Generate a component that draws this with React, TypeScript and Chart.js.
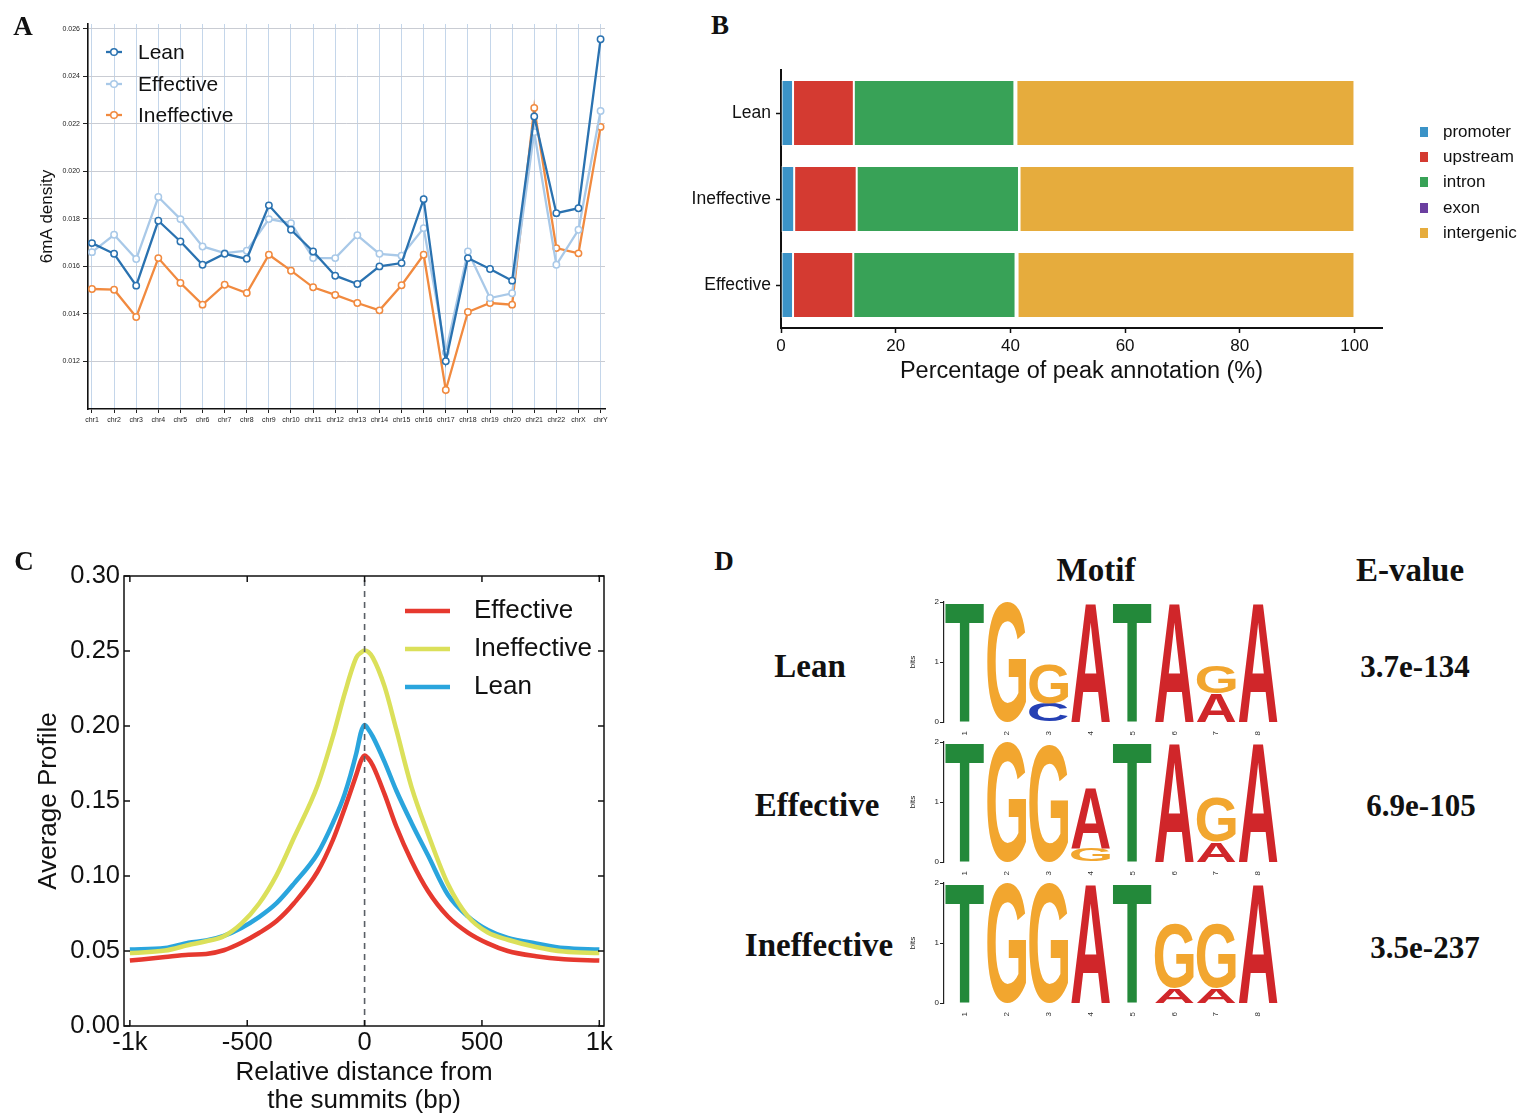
import React, { useEffect, useRef } from 'react';
import { Chart, registerables } from 'chart.js';

Chart.register(...registerables);

const SANS = '"Liberation Sans", Arial, Helvetica, sans-serif';
const SERIF = '"Liberation Serif", "Times New Roman", Times, serif';
Chart.defaults.font.family = SANS;
Chart.defaults.color = '#111';

// ---------------- Panel A : 6mA density per chromosome ----------------
const chromosomes = ['chr1', 'chr2', 'chr3', 'chr4', 'chr5', 'chr6', 'chr7', 'chr8', 'chr9', 'chr10', 'chr11', 'chr12', 'chr13', 'chr14', 'chr15', 'chr16', 'chr17', 'chr18', 'chr19', 'chr20', 'chr21', 'chr22', 'chrX', 'chrY'];
const leanDensity = [0.01698, 0.01653, 0.01519, 0.01792, 0.01705, 0.01607, 0.01653, 0.01632, 0.01857, 0.01754, 0.01663, 0.01561, 0.01526, 0.0160, 0.01614, 0.01883, 0.01201, 0.01635, 0.01589, 0.0154, 0.02231, 0.01824, 0.01845, 0.02556];
const effectiveDensity = [0.0166, 0.01733, 0.01631, 0.01892, 0.01799, 0.01684, 0.01656, 0.01666, 0.01799, 0.01782, 0.01635, 0.01635, 0.01731, 0.01653, 0.01645, 0.01761, 0.01239, 0.01663, 0.01467, 0.01487, 0.02165, 0.01607, 0.01754, 0.02254];
const ineffectiveDensity = [0.01505, 0.01502, 0.01387, 0.01635, 0.0153, 0.01439, 0.01523, 0.01488, 0.01649, 0.01582, 0.01512, 0.0148, 0.01446, 0.01415, 0.01521, 0.01649, 0.0108, 0.01408, 0.01446, 0.01439, 0.02267, 0.01677, 0.01655, 0.02187];
const densityTicks = [0.012, 0.014, 0.016, 0.018, 0.020, 0.022, 0.024, 0.026];

// ---------------- Panel B : peak annotation ----------------
const annotationGroups = ['Lean', 'Ineffective', 'Effective'];
const annotationTypes = ['promoter', 'upstream', 'intron', 'exon', 'intergenic'];
const promoterPct = [2.1, 2.3, 2.1];
const upstreamPct = [10.6, 10.9, 10.5];
const intronPct = [28.0, 28.3, 28.3];
const exonPct = [0.35, 0.1, 0.35];
const intergenicPct = [58.95, 58.4, 58.75];
const percentTicks = [0, 20, 40, 60, 80, 100];

// ---------------- Panel C : average profile ----------------
const distanceBp = [-1000, -850, -750, -675, -600, -525, -450, -375, -300, -200, -135, -85, -35, -15, 0, 15, 35, 85, 135, 200, 270, 355, 440, 525, 610, 730, 850, 1000];
const effectiveProfile = [0.0436, 0.046, 0.0475, 0.048, 0.0505, 0.0555, 0.062, 0.070, 0.082, 0.103, 0.124, 0.145, 0.1677, 0.177, 0.1804, 0.1785, 0.1737, 0.1546, 0.133, 0.110, 0.090, 0.073, 0.0623, 0.0551, 0.050, 0.0465, 0.0445, 0.0436];
const ineffectiveProfile = [0.0486, 0.0503, 0.054, 0.0565, 0.0599, 0.0683, 0.0815, 0.1006, 0.1258, 0.1605, 0.1929, 0.2216, 0.2456, 0.249, 0.2504, 0.2495, 0.2456, 0.2264, 0.1977, 0.1593, 0.1282, 0.0946, 0.0731, 0.0623, 0.0575, 0.0527, 0.0496, 0.0486];
const leanProfile = [0.051, 0.052, 0.0556, 0.057, 0.0601, 0.0654, 0.0726, 0.0819, 0.0951, 0.115, 0.1354, 0.1546, 0.182, 0.196, 0.2006, 0.198, 0.1929, 0.1761, 0.157, 0.1354, 0.1138, 0.0875, 0.0731, 0.064, 0.0587, 0.0551, 0.052, 0.051];
const profileTicks = [0, 0.05, 0.10, 0.15, 0.20, 0.25, 0.30];
const distanceTicks = [-1000, -500, 0, 500, 1000];
const distanceTickLabels = ['-1k', '-500', '0', '500', '1k'];
const summitLineX = [0, 0];
const summitLineY = [0, 0.3];

// ---------------- Panel D : motifs ----------------
const motifPositions = ['1', '2', '3', '4', '5', '6', '7', '8'];
const leanMotifLetters = [['T'], ['G'], ['C', 'G'], ['A'], ['T'], ['A'], ['A', 'G'], ['A']];
const leanMotifBits = [[2], [2], [0.31, 0.66], [2], [2], [2], [0.48, 0.46], [2]];
const effectiveMotifLetters = [['T'], ['G'], ['G'], ['G', 'A'], ['T'], ['A'], ['A', 'G'], ['A']];
const effectiveMotifBits = [[2], [2], [1.97], [0.23, 1.02], [2], [2], [0.34, 0.74], [2]];
const ineffectiveMotifLetters = [['T'], ['G'], ['G'], ['A'], ['T'], ['A', 'G'], ['A', 'G'], ['A']];
const ineffectiveMotifBits = [[2], [2], [2], [2], [2], [0.25, 1.07], [0.25, 1.07], [2]];
const motifGroups = ['Lean', 'Effective', 'Ineffective'];
const motifEValues = ['3.7e-134', '6.9e-105', '3.5e-237'];

const letterColors: Record<string, string> = { A: '#d0262a', C: '#2540b4', G: '#f2a62f', T: '#23893a' };

// ---------------- helpers ----------------
function ChartBox({ left, top, width, height, makeConfig }: any) {
  const ref = useRef<HTMLCanvasElement>(null);
  useEffect(() => {
    const chart = new Chart(ref.current as HTMLCanvasElement, makeConfig());
    return () => chart.destroy();
  }, []);
  return (
    <div style={{ position: 'absolute', left, top, width, height }}>
      <canvas ref={ref} width={width} height={height} style={{ width, height, display: 'block' }} />
    </div>
  );
}

function Label({ x, y, text, size, family = SERIF, weight = 'bold' }: any) {
  return (
    <div
      style={{
        position: 'absolute', left: x, top: y, transform: 'translate(-50%, -50%)',
        font: `${weight} ${size}px ${family}`, lineHeight: 1, whiteSpace: 'nowrap', color: '#111',
      }}
    >
      {text}
    </div>
  );
}

const noPlugins = { legend: { display: false }, tooltip: { enabled: false } };

// ---------------- Panel A config ----------------
function densityDataset(label: string, values: number[], color: string) {
  return {
    label,
    data: values.map((v, i) => ({ x: i, y: v })),
    borderColor: color,
    borderWidth: 2.3,
    pointRadius: 3.2,
    pointBorderWidth: 1.5,
    pointBorderColor: color,
    pointBackgroundColor: '#ffffff',
    tension: 0,
    fill: false,
  };
}

const legendAPlugin = {
  id: 'legendA',
  afterDraw(chart: any) {
    const ctx = chart.ctx;
    const rows = [52, 84, 115];
    chart.data.datasets.forEach((ds: any, i: number) => {
      const y = rows[i];
      ctx.save();
      ctx.strokeStyle = ds.borderColor;
      ctx.lineWidth = 2.3;
      ctx.beginPath(); ctx.moveTo(106, y); ctx.lineTo(122, y); ctx.stroke();
      ctx.beginPath(); ctx.arc(114, y, 3.3, 0, Math.PI * 2);
      ctx.fillStyle = '#fff'; ctx.fill(); ctx.lineWidth = 1.5; ctx.stroke();
      ctx.fillStyle = '#111';
      ctx.font = `21px ${SANS}`;
      ctx.textBaseline = 'middle';
      ctx.textAlign = 'left';
      ctx.fillText(ds.label, 138, y + 1);
      ctx.restore();
    });
  },
};

function configA() {
  return {
    type: 'line',
    data: {
      datasets: [
        densityDataset('Lean', leanDensity, '#2a72b0'),
        densityDataset('Effective', effectiveDensity, '#a9c9e8'),
        densityDataset('Ineffective', ineffectiveDensity, '#f18a3f'),
      ],
    },
    options: {
      responsive: false, animation: false, devicePixelRatio: 1,
      layout: { padding: { top: 24, right: 15, left: 0, bottom: 0 } },
      plugins: noPlugins,
      scales: {
        x: {
          type: 'linear', min: -0.18, max: 23.2,
          afterBuildTicks: (a: any) => { a.ticks = chromosomes.map((_, i) => ({ value: i })); },
          ticks: { callback: (v: any) => chromosomes[Math.round(v)], font: { size: 7 }, color: '#222', padding: 3, maxRotation: 0, autoSkip: false },
          grid: { color: '#c4d6ea', lineWidth: 1, tickColor: '#222', tickLength: 4, tickWidth: 1 },
          border: { color: '#111', width: 1.6 },
          afterFit: (s: any) => { s.height = 31; },
        },
        y: {
          type: 'linear', min: 0.010, max: 0.0262,
          afterBuildTicks: (a: any) => { a.ticks = densityTicks.map((v) => ({ value: v })); },
          ticks: { callback: (v: any) => Number(v).toFixed(3), font: { size: 7 }, color: '#222', padding: 3 },
          grid: { color: '#c9ccd3', lineWidth: 1, tickColor: '#222', tickLength: 5, tickWidth: 1 },
          border: { color: '#111', width: 1.6 },
          title: { display: true, text: '6mA density', font: { size: 17 }, color: '#111', padding: { top: 37 } },
          afterFit: (s: any) => { s.width = 88; },
        },
      },
    },
    plugins: [legendAPlugin],
  };
}

// ---------------- Panel B config ----------------
const annotationColors = ['#3b93c7', '#d43a31', '#38a257', '#6b3fa0', '#e6ac3d'];

const legendBPlugin = {
  id: 'legendB',
  afterDraw(chart: any) {
    const ctx = chart.ctx;
    const rows = [92, 117, 142, 168, 193];
    chart.data.datasets.forEach((ds: any, i: number) => {
      const y = rows[i];
      ctx.save();
      ctx.fillStyle = ds.backgroundColor;
      ctx.fillRect(760, y - 5, 8, 10);
      ctx.fillStyle = '#111';
      ctx.font = `17px ${SANS}`;
      ctx.textBaseline = 'middle';
      ctx.textAlign = 'left';
      ctx.fillText(ds.label, 783, y);
      ctx.restore();
    });
  },
};

function configB() {
  const series = [promoterPct, upstreamPct, intronPct, exonPct, intergenicPct];
  return {
    type: 'bar',
    data: {
      labels: annotationGroups,
      datasets: annotationTypes.map((t, i) => ({
        label: t,
        data: series[i],
        backgroundColor: annotationColors[i],
        borderColor: 'rgba(255,255,255,0.85)',
        borderWidth: 1,
        borderSkipped: false,
        barPercentage: 0.77,
        categoryPercentage: 1,
      })),
    },
    options: {
      indexAxis: 'y',
      responsive: false, animation: false, devicePixelRatio: 1,
      layout: { padding: { top: 30, right: 141, left: 0, bottom: 0 } },
      plugins: noPlugins,
      scales: {
        x: {
          stacked: true, min: 0, max: 104.8,
          afterBuildTicks: (a: any) => { a.ticks = percentTicks.map((v) => ({ value: v })); },
          ticks: { font: { size: 17 }, color: '#111', padding: 3 },
          grid: { drawOnChartArea: false, tickColor: '#111', tickLength: 5, tickWidth: 1.5 },
          border: { color: '#111', width: 2 },
          title: { display: true, text: 'Percentage of peak annotation (%)', font: { size: 23.5 }, color: '#111', padding: { bottom: 14 } },
          afterFit: (s: any) => { s.height = 72; },
        },
        y: {
          stacked: true,
          ticks: { font: { size: 17.5 }, color: '#111', padding: 5 },
          grid: { drawOnChartArea: false, offset: false, tickColor: '#111', tickLength: 5, tickWidth: 1.5 },
          border: { color: '#111', width: 2 },
          afterFit: (s: any) => { s.width = 121; },
        },
      },
    },
    plugins: [legendBPlugin],
  };
}

// ---------------- Panel C config ----------------
const frameCPlugin = {
  id: 'frameC',
  afterDraw(chart: any) {
    const { ctx, chartArea: a, scales } = chart;
    ctx.save();
    ctx.strokeStyle = '#111';
    ctx.lineWidth = 1.5;
    ctx.strokeRect(a.left, a.top, a.right - a.left, a.bottom - a.top);
    const L = 6;
    const seg = (x1: number, y1: number, x2: number, y2: number) => {
      ctx.beginPath(); ctx.moveTo(x1, y1); ctx.lineTo(x2, y2); ctx.stroke();
    };
    scales.y.ticks.forEach((t: any) => {
      const p = scales.y.getPixelForValue(t.value);
      seg(a.left, p, a.left + L, p);
      seg(a.right - L, p, a.right, p);
    });
    scales.x.ticks.forEach((t: any) => {
      const p = scales.x.getPixelForValue(t.value);
      seg(p, a.bottom, p, a.bottom - L);
      seg(p, a.top, p, a.top + L);
    });
    // legend
    const rows = [66, 104, 142];
    chart.data.datasets.filter((ds: any) => ds.showInLegend).forEach((ds: any, i: number) => {
      const y = rows[i];
      ctx.strokeStyle = ds.borderColor;
      ctx.lineWidth = 4.5;
      seg(405, y, 450, y);
      ctx.fillStyle = '#111';
      ctx.font = `26px ${SANS}`;
      ctx.textBaseline = 'middle';
      ctx.textAlign = 'left';
      ctx.fillText(ds.label, 474, y);
    });
    ctx.restore();
  },
};

function profileDataset(label: string, values: number[], color: string) {
  return {
    label,
    showInLegend: true,
    data: values.map((v, i) => ({ x: distanceBp[i], y: v })),
    borderColor: color,
    borderWidth: 4.5,
    pointRadius: 0,
    cubicInterpolationMode: 'monotone',
    fill: false,
  };
}

function configC() {
  return {
    type: 'line',
    data: {
      datasets: [
        {
          label: 'summit',
          showInLegend: false,
          data: summitLineX.map((x, i) => ({ x, y: summitLineY[i] })),
          borderColor: '#5a5f66',
          borderWidth: 1.6,
          borderDash: [6, 5],
          pointRadius: 0,
        },
        profileDataset('Effective', effectiveProfile, '#e6392f'),
        profileDataset('Ineffective', ineffectiveProfile, '#dbe05a'),
        profileDataset('Lean', leanProfile, '#2aa5dd'),
      ],
    },
    options: {
      responsive: false, animation: false, devicePixelRatio: 1,
      layout: { padding: { top: 31, right: 36, left: 0, bottom: 0 } },
      plugins: noPlugins,
      scales: {
        x: {
          type: 'linear', min: -1025, max: 1020,
          afterBuildTicks: (a: any) => { a.ticks = distanceTicks.map((v) => ({ value: v })); },
          ticks: { callback: (_v: any, i: number) => distanceTickLabels[i], font: { size: 25.5 }, color: '#111', padding: 2, maxRotation: 0, autoSkip: false },
          grid: { display: false, drawTicks: false, tickLength: 0 },
          border: { display: false },
          title: { display: true, text: ['Relative distance from', 'the summits (bp)'], font: { size: 26, lineHeight: 1.08 }, color: '#111', padding: { bottom: 0 } },
          afterFit: (s: any) => { s.height = 89; },
        },
        y: {
          type: 'linear', min: 0, max: 0.30,
          afterBuildTicks: (a: any) => { a.ticks = profileTicks.map((v) => ({ value: v })); },
          ticks: { callback: (v: any) => Number(v).toFixed(2), font: { size: 25.5 }, color: '#111', padding: 4 },
          grid: { display: false, drawTicks: false, tickLength: 0 },
          border: { display: false },
          title: { display: true, text: 'Average Profile', font: { size: 26 }, color: '#111', padding: { top: 33 } },
          afterFit: (s: any) => { s.width = 124; },
        },
      },
    },
    plugins: [frameCPlugin],
  };
}

// ---------------- Panel D config ----------------
function drawGlyph(ctx: CanvasRenderingContext2D, ch: string, color: string, x0: number, y0: number, w: number, h: number) {
  if (h < 0.5 || w < 0.5) return;
  ctx.save();
  ctx.font = `bold 100px ${SANS}`;
  ctx.textAlign = 'left';
  ctx.textBaseline = 'alphabetic';
  const m = ctx.measureText(ch);
  const gl = m.actualBoundingBoxLeft;
  const gr = m.actualBoundingBoxRight;
  const ga = m.actualBoundingBoxAscent;
  const gd = m.actualBoundingBoxDescent;
  ctx.translate(x0, y0);
  ctx.scale(w / (gl + gr), h / (ga + gd));
  ctx.fillStyle = color;
  ctx.fillText(ch, gl, ga);
  ctx.restore();
}

const letterPlugin = {
  id: 'logoLetters',
  afterDatasetsDraw(chart: any) {
    const ctx = chart.ctx;
    chart.data.datasets.forEach((ds: any, di: number) => {
      const meta = chart.getDatasetMeta(di);
      meta.data.forEach((bar: any, i: number) => {
        const letter = ds.letters[i];
        if (!letter) return;
        const { x, y, base, width } = bar.getProps(['x', 'y', 'base', 'width'], true);
        drawGlyph(ctx, letter, letterColors[letter], x - width / 2, Math.min(y, base), width, Math.abs(base - y));
      });
    });
  },
};

function logoConfig(letters: string[][], bits: number[][]) {
  const layers = [0, 1];
  return {
    type: 'bar',
    data: {
      labels: motifPositions,
      datasets: layers.map((k) => ({
        label: 'layer' + k,
        data: bits.map((b) => b[k] ?? 0),
        letters: letters.map((l) => l[k] ?? ''),
        backgroundColor: 'rgba(0,0,0,0)',
        borderWidth: 0,
        barPercentage: 0.93,
        categoryPercentage: 1,
      })),
    },
    options: {
      responsive: false, animation: false, devicePixelRatio: 1,
      layout: { padding: { top: 12, right: 21, left: 0, bottom: 0 } },
      plugins: noPlugins,
      scales: {
        x: {
          stacked: true,
          grid: { display: false },
          border: { display: false },
          ticks: { font: { size: 8 }, color: '#333', padding: 1, maxRotation: 90, minRotation: 90 },
          afterFit: (s: any) => { s.height = 18; },
        },
        y: {
          stacked: true, min: 0, max: 2,
          afterBuildTicks: (a: any) => { a.ticks = [0, 1, 2].map((v) => ({ value: v })); },
          ticks: { font: { size: 8 }, color: '#222', padding: 1 },
          grid: { drawOnChartArea: false, tickColor: '#222', tickLength: 4, tickWidth: 1 },
          border: { color: '#222', width: 1.2 },
          title: { display: true, text: 'bits', font: { size: 8 }, color: '#222', padding: { top: 8 } },
          afterFit: (s: any) => { s.width = 44; },
        },
      },
    },
    plugins: [letterPlugin],
  };
}

const motifLetters = [leanMotifLetters, effectiveMotifLetters, ineffectiveMotifLetters];
const motifBits = [leanMotifBits, effectiveMotifBits, ineffectiveMotifBits];
const logoTops = [590, 730, 871];
const rowLabelPos = [[810, 666], [817, 805], [819, 945]];
const eValuePos = [[1415, 666], [1421, 805], [1425, 947]];

export default function App() {
  return (
    <div style={{ position: 'fixed', left: 0, top: 0, width: 1523, height: 1115, background: '#fff', overflow: 'hidden' }}>
      <ChartBox left={0} top={0} width={620} height={440} makeConfig={configA} />
      <ChartBox left={660} top={40} width={863} height={360} makeConfig={configB} />
      <ChartBox left={0} top={545} width={640} height={570} makeConfig={configC} />
      {motifGroups.map((g, i) => (
        <ChartBox key={g} left={900} top={logoTops[i]} width={400} height={150} makeConfig={() => logoConfig(motifLetters[i], motifBits[i])} />
      ))}

      <Label x={23} y={26} text="A" size={27} />
      <Label x={720} y={25} text="B" size={27} />
      <Label x={24} y={561} text="C" size={27} />
      <Label x={724} y={561} text="D" size={27} />

      <Label x={1096} y={570} text="Motif" size={33} />
      <Label x={1410} y={570} text="E-value" size={33} />
      {motifGroups.map((g, i) => (
        <Label key={'l' + g} x={rowLabelPos[i][0]} y={rowLabelPos[i][1]} text={g} size={33} />
      ))}
      {motifEValues.map((e, i) => (
        <Label key={'e' + e} x={eValuePos[i][0]} y={eValuePos[i][1]} text={e} size={31} />
      ))}
    </div>
  );
}
